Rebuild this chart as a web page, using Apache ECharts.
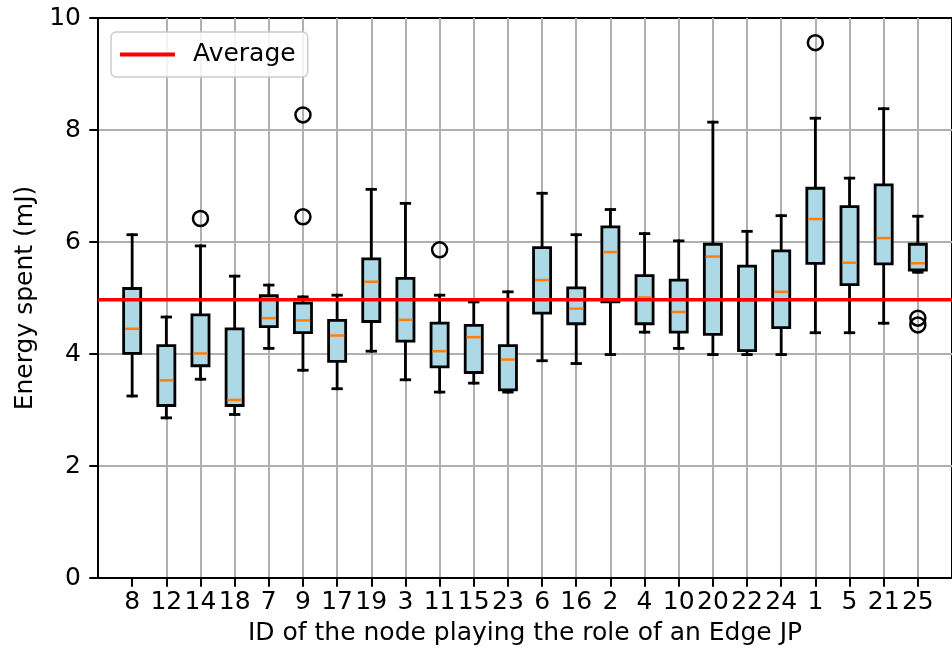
<!DOCTYPE html>
<html>
<head>
<meta charset="utf-8">
<script src="https://cdn.jsdelivr.net/npm/echarts@6/dist/echarts.min.js"></script>
<style>
  html, body { margin: 0; padding: 0; background: #fff; }
  #chart { width: 952px; height: 659px; }
</style>
</head>
<body>
<div id="chart"></div>
<script>
// ---- data ----
const categories = ['8','12','14','18','7','9','17','19','3','11','15','23','6','16','2','4','10','20','22','24','1','5','21','25'];
const whiskerLow  = [3.25, 2.86, 3.55, 2.92, 4.10, 3.71, 3.38, 4.05, 3.54, 3.32, 3.48, 3.32, 3.88, 3.83, 3.99, 4.39, 4.10, 3.99, 3.99, 3.99, 4.38, 4.38, 4.55, 5.46];
const q1          = [4.01, 3.08, 3.79, 3.08, 4.49, 4.38, 3.87, 4.58, 4.23, 3.77, 3.67, 3.36, 4.73, 4.54, 4.93, 4.54, 4.39, 4.35, 4.06, 4.47, 5.62, 5.24, 5.61, 5.50];
const median      = [4.45, 3.53, 4.01, 3.18, 4.64, 4.60, 4.33, 5.29, 4.61, 4.05, 4.30, 3.90, 5.32, 4.81, 5.82, 5.01, 4.75, 5.74, 4.95, 5.11, 6.41, 5.63, 6.07, 5.62];
const q3          = [5.17, 4.15, 4.70, 4.45, 5.04, 4.91, 4.60, 5.70, 5.35, 4.55, 4.51, 4.15, 5.90, 5.18, 6.27, 5.40, 5.32, 5.96, 5.57, 5.84, 6.96, 6.63, 7.02, 5.96];
const whiskerHigh = [6.13, 4.66, 5.93, 5.39, 5.23, 5.02, 5.05, 6.94, 6.69, 5.05, 4.93, 5.11, 6.87, 6.13, 6.58, 6.15, 6.02, 8.14, 6.19, 6.47, 8.21, 7.14, 8.38, 6.46];
const outlierCats   = ['14', '9', '9', '11', '1', '25', '25'];
const outlierValues = [6.42, 8.27, 6.45, 5.86, 9.56, 4.64, 4.52];
const average = 4.97;
const yTicks = [0, 2, 4, 6, 8, 10];

// ---- build series data ----
const boxData = categories.map((c, i) => [i + 1, whiskerLow[i], q1[i], median[i], q3[i], whiskerHigh[i]]);
const outlierData = outlierCats.map((c, i) => [categories.indexOf(c) + 1, outlierValues[i]]);
const tickPositions = categories.map((c, i) => i + 1);

const FONT = 'DejaVu Sans';
const FS = 25;
const LW = 2.8;

const chart = echarts.init(document.getElementById('chart'), null, { renderer: 'canvas' });

function renderBox(params, api) {
  const x = api.value(0);
  const pLow = api.coord([x, api.value(1)]);
  const pQ1 = api.coord([x, api.value(2)]);
  const pMed = api.coord([x, api.value(3)]);
  const pQ3 = api.coord([x, api.value(4)]);
  const pHigh = api.coord([x, api.value(5)]);
  const cx = pQ1[0];
  const bw = api.size([0.5, 0])[0];
  const cw = api.size([0.25, 0])[0];
  const black = { stroke: '#000', lineWidth: LW, lineCap: 'square' };
  return {
    type: 'group',
    children: [
      { type: 'line', shape: { x1: cx, y1: pQ1[1], x2: cx, y2: pLow[1] }, style: black },
      { type: 'line', shape: { x1: cx, y1: pQ3[1], x2: cx, y2: pHigh[1] }, style: black },
      { type: 'line', shape: { x1: cx - cw / 2, y1: pLow[1], x2: cx + cw / 2, y2: pLow[1] }, style: black },
      { type: 'line', shape: { x1: cx - cw / 2, y1: pHigh[1], x2: cx + cw / 2, y2: pHigh[1] }, style: black },
      { type: 'rect', shape: { x: cx - bw / 2, y: pQ3[1], width: bw, height: pQ1[1] - pQ3[1] },
        style: { fill: '#add8e6', stroke: '#000', lineWidth: LW } },
      { type: 'line', shape: { x1: cx - bw / 2 + LW / 2, y1: pMed[1], x2: cx + bw / 2 - LW / 2, y2: pMed[1] },
        style: { stroke: '#ff7f0e', lineWidth: 2.5 } }
    ]
  };
}

const option = {
  backgroundColor: '#ffffff',
  animation: false,
  textStyle: { fontFamily: FONT },
  grid: {
    left: 98, top: 18, width: 861, height: 560,
    show: true, borderColor: '#000', borderWidth: 2, backgroundColor: 'transparent'
  },
  legend: {
    data: [{ name: 'Average', icon: 'rect' }],
    left: 111, top: 32,
    itemWidth: 55, itemHeight: 4,
    padding: [8, 12, 8, 9],
    backgroundColor: 'rgba(255,255,255,0.85)',
    borderColor: '#cccccc', borderWidth: 1.5, borderRadius: 5,
    textStyle: { fontFamily: FONT, fontSize: FS, color: '#000', padding: [0, 0, 0, 13], lineHeight: 29 },
    z: 20
  },
  xAxis: {
    type: 'value', min: 0, max: 25, interval: 1,
    axisLine: { show: true, lineStyle: { color: '#000', width: 2 } },
    axisTick: { show: true, length: 8.75, lineStyle: { color: '#000', width: 2 }, customValues: tickPositions },
    axisLabel: {
      customValues: tickPositions,
      formatter: v => categories[Math.round(v) - 1] || '',
      fontFamily: FONT, fontSize: FS, color: '#000', margin: 12
    },
    splitLine: { show: true, showMinLine: false, lineStyle: { color: '#b0b0b0', width: 2 } },
    name: 'ID of the node playing the role of an Edge JP',
    nameLocation: 'middle', nameGap: 43,
    nameTextStyle: { fontFamily: FONT, fontSize: FS, color: '#000' },
    z: 3
  },
  yAxis: {
    type: 'value', min: yTicks[0], max: yTicks[yTicks.length - 1], interval: 2,
    axisLine: { show: true, lineStyle: { color: '#000', width: 2 } },
    axisTick: { show: true, length: 8.75, lineStyle: { color: '#000', width: 2 } },
    axisLabel: { fontFamily: FONT, fontSize: FS, color: '#000', margin: 17 },
    splitLine: { show: true, showMinLine: false, showMaxLine: false, lineStyle: { color: '#b0b0b0', width: 2 } },
    name: 'Energy spent (mJ)',
    nameLocation: 'middle', nameGap: 58,
    nameTextStyle: { fontFamily: FONT, fontSize: FS, color: '#000' },
    z: 3
  },
  series: [
    {
      name: 'boxes', type: 'custom', renderItem: renderBox,
      data: boxData, encode: { x: 0, y: [1, 2, 3, 4, 5] }, z: 4, silent: true
    },
    {
      name: 'outliers', type: 'scatter', data: outlierData,
      symbol: 'circle', symbolSize: 15,
      itemStyle: { color: 'rgba(0,0,0,0)', borderColor: '#000', borderWidth: 2.5, opacity: 1 },
      z: 5, silent: true
    },
    {
      name: 'Average', type: 'line', data: [[0, average], [25, average]],
      showSymbol: false, symbol: 'none',
      lineStyle: { color: '#ff0000', width: 3.5 }, itemStyle: { color: '#ff0000' },
      z: 6, silent: true
    }
  ]
};
chart.setOption(option);
</script>
</body>
</html>
